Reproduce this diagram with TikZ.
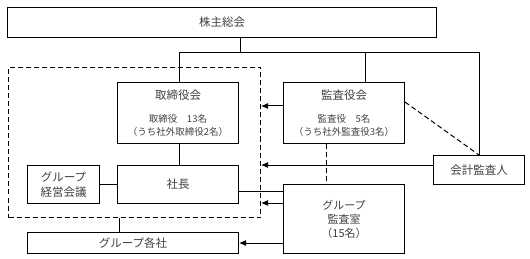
\documentclass[tikz,border=0pt]{standalone}
\usepackage{fontspec}
\setmainfont{Noto Sans CJK JP}
\usetikzlibrary{arrows.meta}
\begin{document}
\begin{tikzpicture}[x=1pt,y=-1pt,
  box/.style={draw, line width=1pt, inner sep=0pt, align=center, anchor=north west,
    text=black!75, font=\fontsize{11.5}{15}\selectfont},
  twoline/.style={font=\fontsize{9.5}{13}\selectfont},
  ln/.style={line width=1pt},
  dsh/.style={line width=1pt, dash pattern=on 5pt off 3pt},
  arr/.style={line width=1pt, -{Latex[length=7pt,width=6pt]}}
]
\useasboundingbox (0,0) rectangle (530,259);
% boxes
\node[box, minimum width=429, minimum height=30] (top) at (7,7) {株主総会};
\node[dsh, draw, anchor=north west, minimum width=252, minimum height=150, inner sep=0pt] (grp) at (8,67) {};
\node[box, twoline, minimum width=121, minimum height=61] (tori) at (117,82)
  {{\fontsize{11.5}{15}\selectfont 取締役会}\\[10pt]取締役　13名\\（うち社外取締役2名）};
\node[box, twoline, minimum width=121, minimum height=61] (kansa) at (283,82)
  {{\fontsize{11.5}{15}\selectfont 監査役会}\\[10pt]監査役　5名\\（うち社外監査役3名）};
\node[box, minimum width=91, minimum height=29] (kaikei) at (433,155) {会計監査人};
\node[box, minimum width=121, minimum height=38] (shacho) at (117,165) {社長};
\node[box, minimum width=72, minimum height=38] (keiei) at (27,165) {グループ\\経営会議};
\node[box, minimum width=121, minimum height=69, font=\fontsize{11}{14}\selectfont] (shitsu) at (283,184) {グループ\\監査室\\（15名）};
\node[box, minimum width=211, minimum height=21] (kakusha) at (27,232) {グループ各社};
% tree lines
\coordinate (j) at (240,52.5);
\coordinate (jl) at (179,52.5);
\coordinate (jk) at (365,52.5);
\coordinate (jr) at (479,52.5);
\draw[ln] (top.south -| j) -- (j);
\draw[ln] (tori.north -| jl) -- (jl) -- (jr) -- (kaikei.north -| jr);
\draw[ln] (jk) -- (kansa.north -| jk);
\draw[ln] (tori.south -| jl) -- (shacho.north -| jl);
\draw[ln] (keiei.east) -- (shacho.west);
\coordinate (s) at (0,191);
\draw[ln] (shacho.east |- s) -- (shitsu.west |- s);
\coordinate (g) at (119,0);
\draw[ln] (grp.south -| g) -- (kakusha.north -| g);
% arrows
\coordinate (a1) at (0,106);
\coordinate (a2) at (0,165);
\coordinate (a3) at (0,203);
\draw[arr] (kansa.west |- a1) -- (grp.east |- a1);
\draw[arr] (kaikei.west |- a2) -- (grp.east |- a2);
\draw[arr] (shitsu.west |- a3) -- (grp.east |- a3);
\draw[arr] (shitsu.west |- kakusha.east) -- (kakusha.east);
% dashed links
\coordinate (d) at (326,0);
\draw[dsh] (kansa.south -| d) -- (shitsu.north -| d);
\coordinate (e) at (0,102);
\draw[dsh] (kansa.east |- e) -- (kaikei.north -| jr);
\end{tikzpicture}
\end{document}
